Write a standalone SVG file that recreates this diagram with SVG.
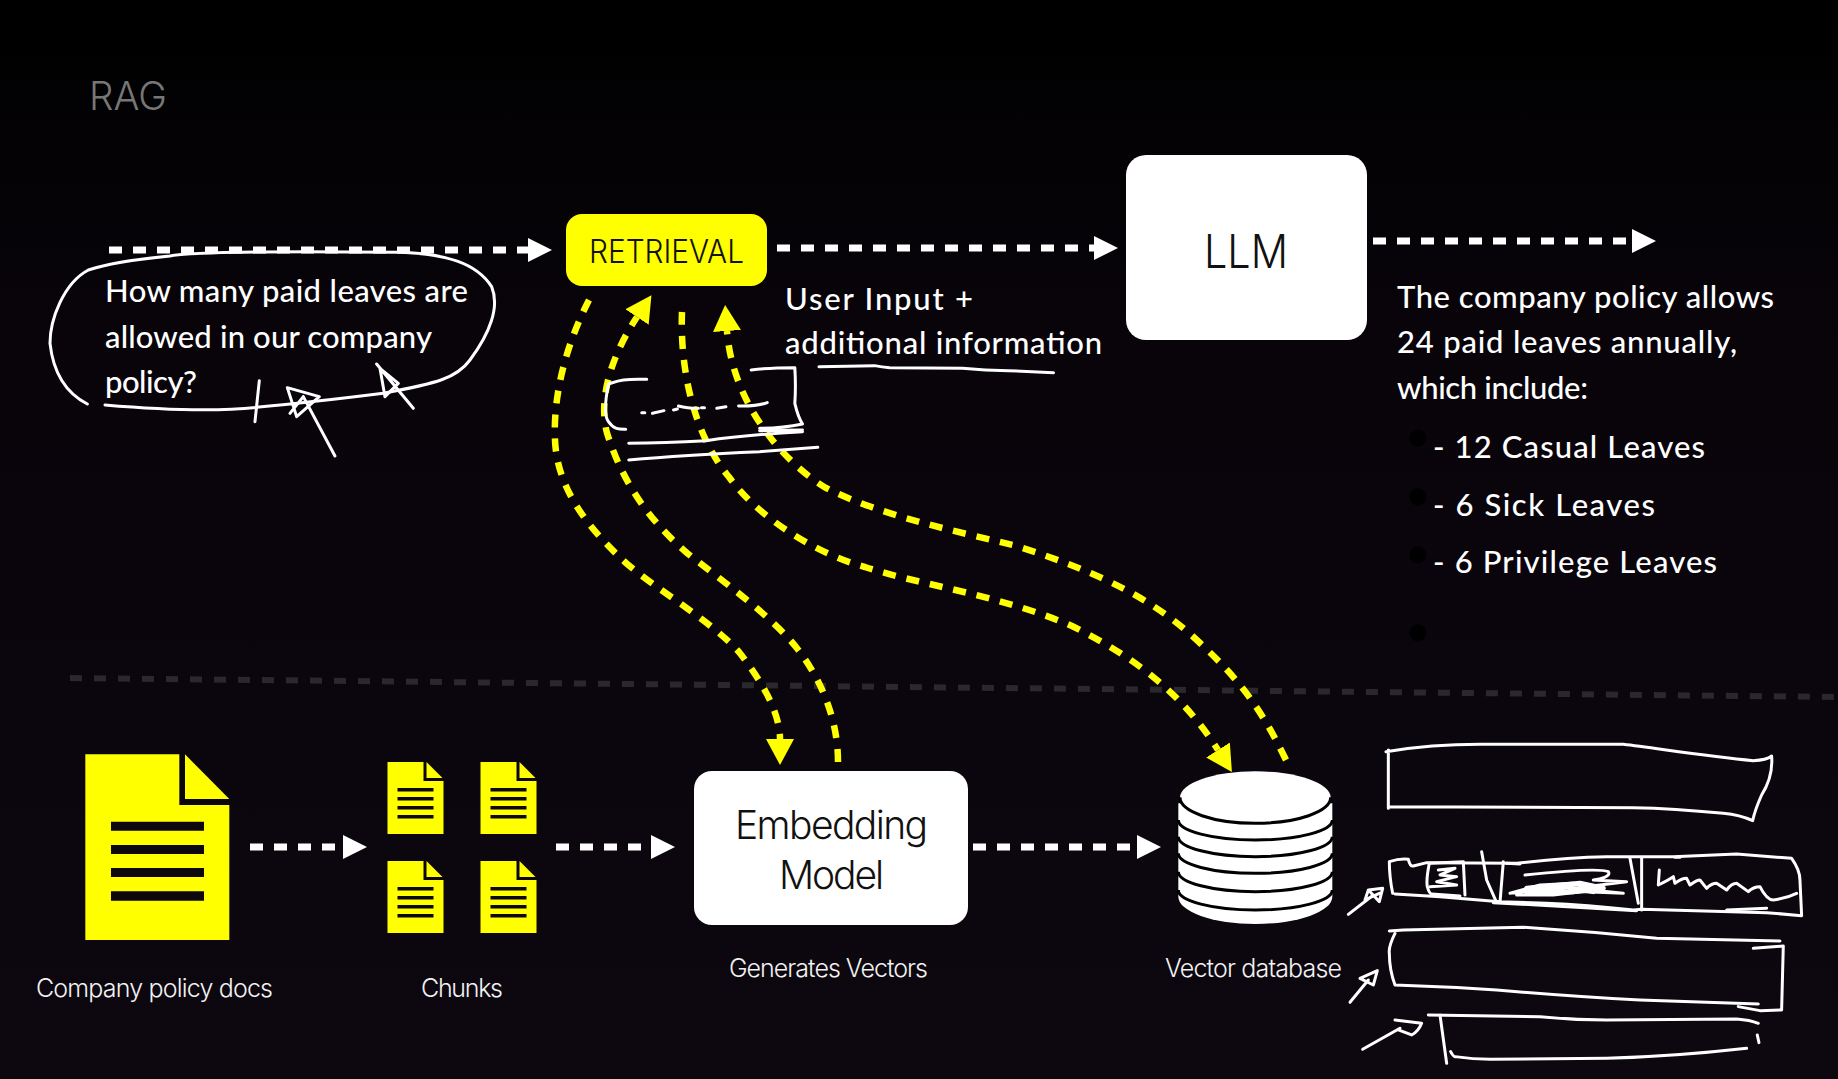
<svg xmlns="http://www.w3.org/2000/svg" xmlns:xlink="http://www.w3.org/1999/xlink" width="1838" height="1079" viewBox="0 0 1838 1079">
<style>
.ui{font-family:Inter,"Liberation Sans",sans-serif;font-weight:300}
.hand{font-family:Lato,"Open Sans","Liberation Sans",sans-serif;font-size:31px;fill:#fff;font-weight:500}
.lab{font-size:25px;fill:#f2f2f2}
.sk{fill:none;stroke:#fff;stroke-width:3;stroke-linecap:round;stroke-linejoin:round;vector-effect:non-scaling-stroke}
.thick{stroke-width:5}
.wd{fill:none;stroke:#fff;stroke-width:7;stroke-dasharray:13 11;marker-end:url(#wh)}
.yd{fill:none;stroke:#ffff00;stroke-width:6.5;stroke-dasharray:13 11}
.yh{marker-end:url(#yh)}
.dk{fill:#0c080e}
</style>
<defs>
<linearGradient id="bg" x1="0" y1="0" x2="0" y2="1"><stop offset="0" stop-color="#000"/><stop offset=".3" stop-color="#08040a"/><stop offset="1" stop-color="#0d0810"/></linearGradient>
<marker id="wh" markerUnits="userSpaceOnUse" markerWidth="24" markerHeight="26" refX="0" refY="13" orient="auto"><path d="M0 1L24 13L0 25Z" fill="#fff"/></marker>
<marker id="yh" markerUnits="userSpaceOnUse" markerWidth="27" markerHeight="30" refX="0" refY="15" orient="auto"><path d="M0 1L26 15L0 29Z" fill="#ffff00"/></marker>
<g id="chunk"><path d="M0 0H36V19H56V72H0Z" fill="#ffff00"/><path d="M39 0L55 16H39Z" fill="#ffff00"/><path class="dk" d="M10 26h36v3.5h-36zM10 35h36v3.5h-36zM10 44h36v3.5h-36zM10 53h36v3.5h-36z"/></g>
</defs>
<rect width="1838" height="1079" fill="url(#bg)"/>
<text id="title" class="ui" x="89" y="110" font-size="39" fill="#777" textLength="78" lengthAdjust="spacingAndGlyphs">RAG</text>
<path d="M70 678L1838 697" fill="none" stroke="#2a282c" stroke-width="6" stroke-dasharray="12 12"/>

<g id="connectors">
<path class="wd" d="M109 250H528"/>
<path class="wd" d="M777 248H1094"/>
<path class="wd" d="M1373 241H1632"/>
<path class="wd" d="M250 847H343"/>
<path class="wd" d="M556 847H651"/>
<path class="wd" d="M973 847H1137"/>
<path class="yd yh" d="M589 300C566 345 553 395 555 440C557 490 590 530 626 563C660 592 710 620 739 652C765 685 780 715 780 739"/>
<path class="yd yh" d="M838 762C838 720 822 680 796 647C770 615 725 583 687 553C655 525 625 490 607 433C597 395 615 350 637 317"/>
<path class="yd yh" d="M682 312C680 360 690 430 729 477C760 520 820 555 865 567C920 585 1000 595 1072 626C1130 655 1180 690 1218 750"/>
<path class="yd yh" d="M1286 760C1262 710 1240 680 1200 643C1160 605 1110 575 1013 545C950 530 880 515 826 488C780 460 732 400 727 331"/>
</g>

<g id="question">
<text class="hand" x="105" y="302" textLength="363" lengthAdjust="spacing">How many paid leaves are</text>
<text class="hand" x="105" y="348" textLength="327" lengthAdjust="spacing">allowed in our company</text>
<text class="hand" x="105" y="393" textLength="92" lengthAdjust="spacing">policy?</text>
<g transform="translate(30 220) scale(.3333)">
<path class="sk" d="M172 552C110 520 70 460 60 370C60 300 100 190 175 150C250 125 350 115 420 108C500 92 900 95 1100 97C1250 100 1340 130 1385 200C1410 260 1380 340 1320 420C1280 475 1220 490 1060 520C900 540 760 555 680 562C560 575 400 570 225 555"/>
<path class="sk" d="M688 482L675 605M915 708L820 530M772 503L868 530L800 590ZM820 530L780 580M1040 432L1150 565M1050 445L1105 490L1065 530Z"/>
</g>
</g>

<g id="retrieval">
<rect x="566" y="214" width="201" height="72" rx="16" fill="#ffff00"/>
<text class="ui" x="589" y="263" font-size="33" fill="#111" textLength="155" lengthAdjust="spacingAndGlyphs">RETRIEVAL</text>
</g>

<g id="llm">
<rect x="1126" y="155" width="241" height="185" rx="20" fill="#fff"/>
<text class="ui" x="1204" y="268" font-size="47" fill="#111" textLength="84" lengthAdjust="spacingAndGlyphs">LLM</text>
</g>

<g id="user-input">
<text class="hand" x="785" y="310" textLength="188" lengthAdjust="spacing">User Input +</text>
<text class="hand" x="785" y="354" textLength="317" lengthAdjust="spacing">additional information</text>
<g transform="translate(530 270) scale(.3827 .3333)">
<path class="sk" d="M755 290L900 287Q920 292 940 293L1130 295Q1190 302 1250 302L1368 308"/>
<path class="sk" d="M305 328C240 325 225 335 205 342C195 400 195 440 205 455C220 480 235 478 250 478"/>
<path class="sk" d="M578 300Q625 293 692 293Q695 350 692 400Q700 440 712 462Q660 475 600 475"/>
<path class="sk" d="M292 428h8M320 430L350 422M375 420L385 417M388 408Q410 415 440 415M448 413h8M488 415L512 410M545 408Q590 410 620 398"/>
<path class="sk" d="M258 520Q350 518 460 512Q560 495 712 485M600 482L712 480M258 570Q400 555 600 545L752 532"/>
</g>
</g>

<g id="response">
<text class="hand" x="1397" y="308" textLength="377" lengthAdjust="spacing">The company policy allows</text>
<text class="hand" x="1397" y="353" textLength="340" lengthAdjust="spacing">24 paid leaves annually,</text>
<text class="hand" x="1397" y="399" textLength="191" lengthAdjust="spacing">which include:</text>
<circle cx="1418" cy="438" r="8.5" fill="#000"/>
<circle cx="1418" cy="497" r="8.5" fill="#000"/>
<circle cx="1418" cy="555" r="8.5" fill="#000"/>
<circle cx="1418" cy="633" r="8.5" fill="#000"/>
<text class="hand" x="1433" y="458" textLength="272" lengthAdjust="spacing">- 12 Casual Leaves</text>
<text class="hand" x="1433" y="516" textLength="222" lengthAdjust="spacing">- 6 Sick Leaves</text>
<text class="hand" x="1433" y="573" textLength="284" lengthAdjust="spacing">- 6 Privilege Leaves</text>
</g>

<g id="policy-docs">
<g transform="translate(60 740) scale(.3333)">
<path d="M76 43H358V195H508V600H76Z" fill="#ffff00"/>
<path d="M375 43L508 177H375Z" fill="#ffff00"/>
<path class="dk" d="M153 245H432V272H153ZM153 315H432V342H153ZM153 384H432V411H153ZM153 454H432V482H153Z"/>
</g>
<text class="ui lab" x="36" y="997" textLength="237" lengthAdjust="spacing">Company policy docs</text>
</g>

<g id="chunks">
<use href="#chunk" xlink:href="#chunk" x="387.5" y="762"/>
<use href="#chunk" xlink:href="#chunk" x="480.5" y="762"/>
<use href="#chunk" xlink:href="#chunk" x="387.5" y="861"/>
<use href="#chunk" xlink:href="#chunk" x="480.5" y="861"/>
<text class="ui lab" x="421" y="997" textLength="82" lengthAdjust="spacing">Chunks</text>
</g>

<g id="embedding-model">
<rect x="694" y="771" width="274" height="154" rx="18" fill="#fff"/>
<text class="ui" x="735" y="839" font-size="39" fill="#111" textLength="193" lengthAdjust="spacing">Embedding</text>
<text class="ui" x="779" y="889" font-size="39" fill="#111" textLength="105" lengthAdjust="spacing">Model</text>
<text class="ui lab" x="729" y="977" textLength="199" lengthAdjust="spacing">Generates Vectors</text>
</g>

<g id="vector-database">
<g transform="translate(1150 740) scale(.3333)">
<path d="M85 190V470A231 82 0 0 0 547 470V190Z" fill="#fff"/>
<ellipse cx="316" cy="172" rx="226" ry="78" fill="#fff"/>
<path d="M90 172A226 78 0 0 0 542 172M85 240A231 60 0 0 0 547 240M85 290A231 60 0 0 0 547 290M85 340A231 60 0 0 0 547 340M85 395A231 60 0 0 0 547 395M85 450A231 60 0 0 0 547 450" fill="none" stroke="#000" stroke-width="9"/>
</g>
<text class="ui lab" x="1165" y="977" textLength="177" lengthAdjust="spacing">Vector database</text>
</g>

<g id="sketch-table" transform="translate(1340 720) scale(.3333)">
<path class="sk" d="M145 90L145 265M138 95C200 85 300 73 420 73L850 73C950 85 1100 108 1240 122Q1280 120 1295 108Q1300 170 1265 225Q1245 270 1238 302Q1200 285 1150 280Q1000 265 880 263L145 260"/>
<path class="sk" d="M158 520Q148 470 148 425Q180 415 205 418Q210 440 220 438L260 428L530 430Q680 412 800 410L1000 410L1190 402L1355 415Q1380 450 1380 480L1385 587L1280 578L905 568L880 570Q740 555 620 550L480 545L300 530L165 522"/>
<path class="sk" d="M268 430Q258 480 262 500Q268 522 275 522L360 528M370 425L375 525M270 430L370 425M425 395L440 480L470 548M490 425L480 548M870 415L895 550M905 415L905 570M1160 570L1280 565M1005 412h15M500 430L540 432M460 548L890 572"/>
<path class="sk" d="M295 450L345 445L300 465L350 470L290 485L350 495L270 500"/>
<path class="sk" d="M555 465C650 455 780 445 805 455C815 470 780 478 760 480L860 485L700 505L850 520L600 510L510 520L600 495L700 490L770 510L640 525L530 525"/>
<path class="sk thick" d="M560 505L720 490L790 505L700 515L560 518L680 500L760 515"/>
<path class="sk" d="M958 450L955 495Q985 480 1000 470L1005 490Q1025 475 1040 475L1050 495Q1070 480 1080 480L1100 505Q1115 490 1130 490L1160 510Q1175 490 1190 490L1225 515Q1240 500 1260 500Q1280 540 1300 540Q1340 535 1370 520"/>
<path class="sk" d="M25 583L100 525M85 510L128 505L118 545ZM85 510L75 540L118 520"/>
<path class="sk" d="M148 633L190 630Q400 625 550 622Q750 635 950 655L1320 663M165 640Q145 680 148 700Q148 750 165 795Q320 800 470 810Q700 830 900 840L1255 852M1240 685L1330 678L1325 870L1260 872L1195 860"/>
<path class="sk" d="M30 847L85 780M60 775L112 752L100 795Z"/>
<path class="sk" d="M265 885L600 890Q700 900 800 900L1190 897Q1230 900 1255 910M300 885L320 1030M332 995Q340 1010 345 1010Q400 1018 450 1018L800 1015Q1000 1010 1220 985M1252 945L1257 968"/>
<path class="sk" d="M68 988L180 925M165 900L245 910Q235 935 215 945L175 930"/>
</g>
</svg>
